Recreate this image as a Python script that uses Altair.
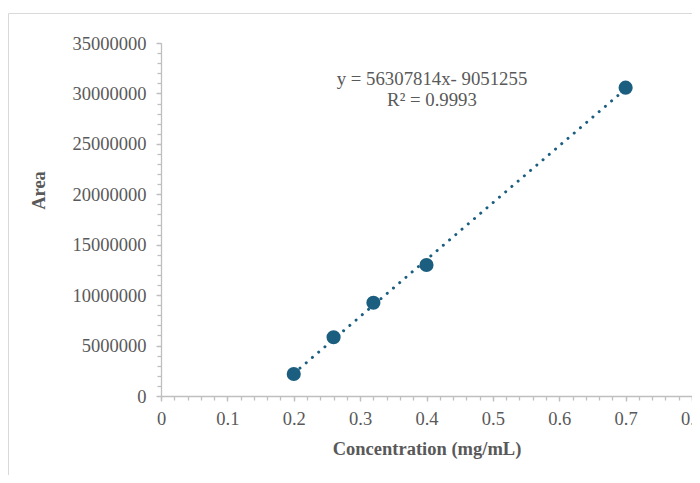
import altair as alt
import pandas as pd

conc = [0.2, 0.26, 0.32, 0.4, 0.7]
area = [2180000, 5820000, 9250000, 12990000, 30570000]
eq_lines = ["y = 56307814x- 9051255", "R² = 0.9993"]
x_title = "Concentration (mg/mL)"
y_title = "Area"
x_major = [0, 0.1, 0.2, 0.3, 0.4, 0.5, 0.6, 0.7, 0.8]
x_minor = [round(i * 0.02, 2) for i in range(41)]
y_major = [0, 5000000, 10000000, 15000000, 20000000, 25000000, 30000000, 35000000]
y_minor = [i * 1000000 for i in range(36)]

df = pd.DataFrame({"conc": conc, "area": area})
one = pd.DataFrame({"k": [0]})

FONT = "Liberation Serif"
TXT = "#595959"
AX = "#bfbfbf"
FRAME = "#d9d9d9"
BLUE = "#1b5e80"
W, H = 531, 353
PAD = {"left": 153, "top": 35, "right": 0, "bottom": 79}

common = dict(grid=False, labelOverlap=False, labelFlush=False, labelBound=False,
              tickColor=AX, tickWidth=1.3, domainColor=AX, domainWidth=1.3)

xaxis = alt.Axis(
    values=x_major, title=x_title, format=".1~f", orient="bottom",
    labelFont=FONT, labelFontSize=18.5, labelColor=TXT, labelPadding=8,
    titleFont=FONT, titleFontSize=18.5, titleColor=TXT,
    titleFontWeight="bold", titlePadding=12, tickSize=5, **common
)
yaxis = alt.Axis(
    values=y_major, title=y_title, format="d", orient="left",
    labelFont=FONT, labelFontSize=18.5, labelColor=TXT, labelPadding=10,
    titleFont=FONT, titleFontSize=18.5, titleColor=TXT,
    titleFontWeight="bold", titleX=-123, titleY=147, titleAngle=-90,
    titleAlign="center", titleBaseline="middle", tickSize=5, **common
)
xminor = alt.Axis(values=x_minor, title=None, labels=False, domain=False,
                  orient="bottom", tickSize=4, grid=False, tickColor=AX, tickWidth=1.3)
yminor = alt.Axis(values=y_minor, title=None, labels=False, domain=False,
                  orient="left", tickSize=4, grid=False, tickColor=AX, tickWidth=1.3)

xs = alt.Scale(domain=[0, 0.8], nice=False)
ys = alt.Scale(domain=[0, 35000000], nice=False)

base = alt.Chart(df)

trend = base.transform_regression("conc", "area").mark_line(
    color=BLUE, strokeWidth=3, strokeDash=[0.01, 8.2], strokeCap="round"
).encode(x=alt.X("conc:Q", scale=xs, axis=xaxis), y=alt.Y("area:Q", scale=ys, axis=yaxis))

points = base.mark_circle(size=200, color=BLUE, opacity=1).encode(
    x=alt.X("conc:Q", scale=xs, axis=xminor), y=alt.Y("area:Q", scale=ys, axis=yminor)
)

label = alt.Chart(one).mark_text(
    text=eq_lines, font=FONT, fontSize=18.8, color=TXT, align="center",
    baseline="middle", lineHeight=21
).encode(x=alt.value(271), y=alt.value(36))

frame_left = alt.Chart(one).mark_rule(color=FRAME, strokeWidth=1).encode(
    x=alt.value(-152.5), y=alt.value(-29.5), y2=alt.value(H + PAD["bottom"])
)
frame_top = alt.Chart(one).mark_rule(color=FRAME, strokeWidth=1).encode(
    x=alt.value(-152.5), x2=alt.value(W + PAD["right"]), y=alt.value(-29.5)
)

chart = alt.layer(frame_left, frame_top, trend, points, label).resolve_axis(
    x="independent", y="independent"
).properties(
    width=W, height=H, autosize=alt.AutoSizeParams(type="none"), padding=PAD,
    background="white"
).configure_view(stroke=None)

chart.save("out.html", embed_options={"renderer": "svg", "actions": False})
